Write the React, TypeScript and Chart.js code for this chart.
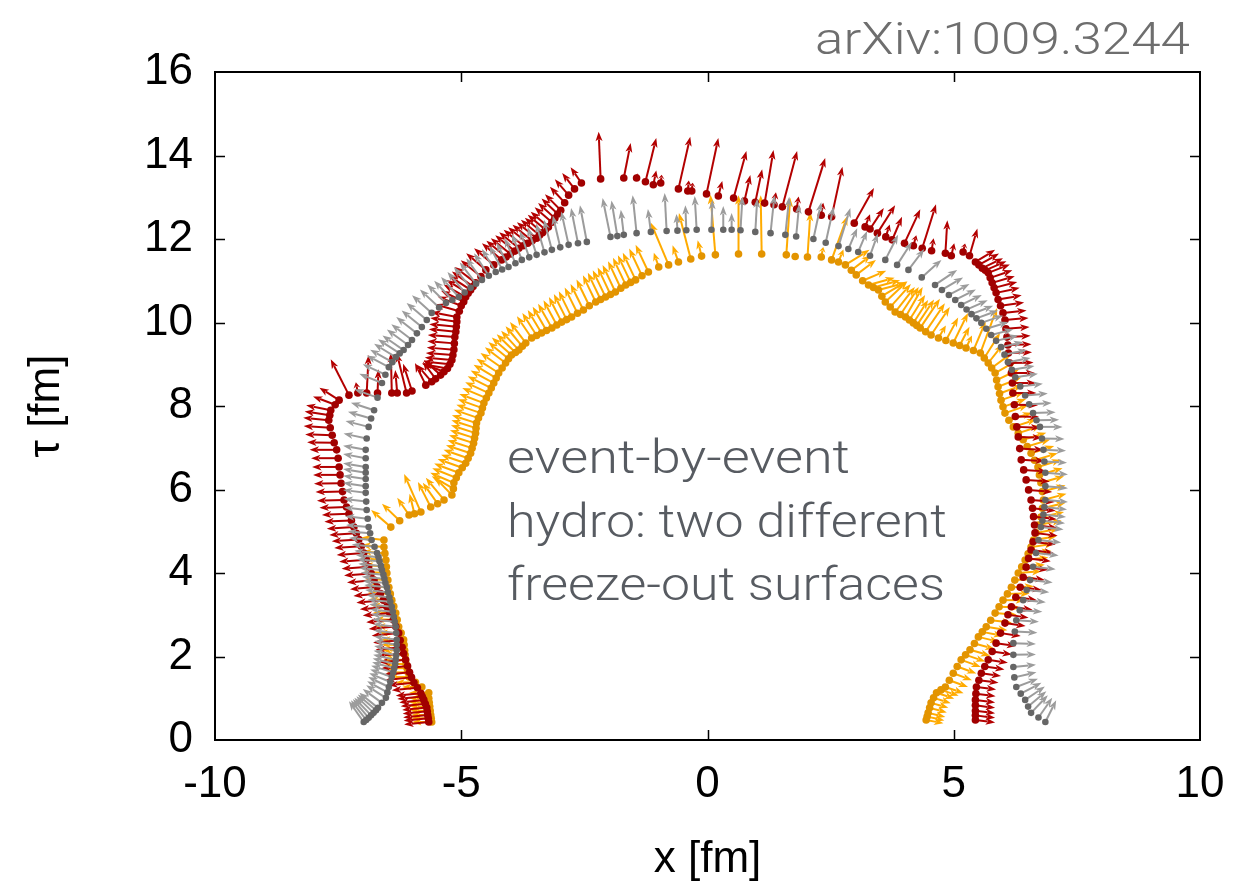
import React, { useEffect, useRef } from "react";
import { Chart, registerables } from "chart.js";
Chart.register(...registerables);

// ---------- axis ----------
const xRange = [-10, 10];
const tauRange = [0, 16];
const xStep = 5;
const tauStep = 2;

// ---------- surfaces: each row is [x, tau, arrow dx, arrow dtau] ----------
const grayPoints: number[][] = [
  [-6.98,0.43,-0.30,0.50],[-6.93,0.48,-0.31,0.47],[-6.88,0.53,-0.32,0.45],[-6.83,0.59,-0.34,0.42],
  [-6.78,0.65,-0.35,0.40],[-6.73,0.71,-0.37,0.38],[-6.69,0.77,-0.38,0.36],[-6.61,0.89,-0.39,0.33],
  [-6.53,1.01,-0.40,0.30],[-6.50,1.14,-0.41,0.27],[-6.47,1.27,-0.42,0.24],[-6.44,1.39,-0.43,0.21],
  [-6.41,1.51,-0.44,0.18],[-6.38,1.62,-0.45,0.16],[-6.36,1.72,-0.45,0.14],[-6.34,1.82,-0.46,0.13],
  [-6.33,1.92,-0.46,0.12],[-6.32,2.03,-0.46,0.11],[-6.31,2.15,-0.46,0.10],[-6.31,2.28,-0.46,0.09],
  [-6.31,2.40,-0.46,0.08],[-6.32,2.56,-0.46,0.07],[-6.33,2.71,-0.46,0.07],[-6.35,2.83,-0.46,0.06],
  [-6.37,2.95,-0.46,0.06],[-6.39,3.07,-0.46,0.06],[-6.41,3.19,-0.46,0.06],[-6.44,3.31,-0.46,0.05],
  [-6.46,3.42,-0.46,0.05],[-6.49,3.54,-0.46,0.05],[-6.51,3.66,-0.46,0.05],[-6.54,3.76,-0.46,0.05],
  [-6.56,3.86,-0.46,0.05],[-6.58,3.96,-0.46,0.05],[-6.61,4.07,-0.46,0.05],[-6.63,4.17,-0.46,0.05],
  [-6.66,4.28,-0.46,0.05],[-6.68,4.38,-0.46,0.05],[-6.71,4.48,-0.46,0.05],[-6.76,4.63,-0.46,0.05],
  [-6.82,4.79,-0.46,0.05],[-6.85,4.95,-0.46,0.05],[-6.88,5.10,-0.46,0.05],[-6.90,5.30,-0.46,0.06],
  [-6.92,5.51,-0.46,0.06],[-6.93,5.71,-0.46,0.07],[-6.94,5.92,-0.46,0.07],[-6.94,6.08,-0.46,0.08],
  [-6.94,6.25,-0.46,0.08],[-6.94,6.40,-0.46,0.09],[-6.94,6.54,-0.46,0.09],[-6.94,6.75,-0.46,0.10],
  [-6.94,6.95,-0.46,0.10],[-6.92,7.22,-0.47,0.12],[-6.88,7.50,-0.47,0.14],[-6.83,7.70,-0.47,0.16],
  [-6.77,7.90,-0.47,0.18],[-6.70,8.20,-0.47,0.20],[-6.61,8.55,-0.46,0.22],[-6.54,8.75,-0.46,0.25],
  [-6.47,8.93,-0.45,0.28],[-6.40,9.05,-0.45,0.30],[-6.33,9.17,-0.44,0.32],[-6.25,9.26,-0.44,0.34],
  [-6.17,9.34,-0.43,0.35],[-6.08,9.46,-0.43,0.37],[-6.00,9.58,-0.42,0.38],[-5.90,9.74,-0.42,0.39],
  [-5.80,9.89,-0.41,0.40],[-5.70,10.06,-0.41,0.41],[-5.60,10.23,-0.40,0.42],[-5.45,10.36,-0.39,0.43],
  [-5.31,10.47,-0.38,0.44],[-5.18,10.54,-0.37,0.46],[-5.05,10.61,-0.36,0.48],[-4.93,10.72,-0.35,0.49],
  [-4.81,10.83,-0.34,0.50],[-4.70,10.93,-0.33,0.51],[-4.58,11.02,-0.32,0.52],[-4.44,11.12,-0.30,0.54],
  [-4.30,11.21,-0.28,0.55],[-4.17,11.27,-0.26,0.57],[-4.04,11.33,-0.24,0.58],[-3.90,11.42,-0.22,0.60],
  [-3.77,11.50,-0.20,0.62],[-3.62,11.56,-0.19,0.64],[-3.47,11.62,-0.18,0.66],[-3.31,11.68,-0.17,0.69],
  [-3.16,11.74,-0.16,0.72],[-2.99,11.80,-0.15,0.76],[-2.82,11.86,-0.15,0.80],[-2.63,11.90,-0.14,0.84],
  [-2.45,11.93,-0.14,0.88],[-1.97,12.05,-0.16,0.93],[-1.83,12.07,-0.12,0.85],[-1.70,12.10,-0.06,0.60],
  [-1.44,12.14,-0.08,0.91],[-1.15,12.17,-0.06,0.55],[-0.83,12.19,-0.04,0.91],[-0.61,12.20,-0.02,0.40],
  [-0.43,12.21,-0.02,0.60],[-0.22,12.22,-0.04,0.81],[0.08,12.22,0.02,0.72],[0.32,12.22,0.00,0.57],
  [0.49,12.22,0.00,0.40],[0.67,12.21,0.04,0.81],[0.97,12.17,0.04,0.80],[1.28,12.14,0.08,0.91],
  [1.58,12.10,0.08,0.91],[1.80,12.06,0.06,0.77],[2.15,12.00,0.16,0.88],[2.40,11.91,0.16,0.86],
  [2.66,11.83,0.24,0.91],[2.86,11.76,0.18,0.50],[3.06,11.69,0.18,0.50],[3.30,11.60,0.16,0.53],
  [3.61,11.50,0.26,0.60],[3.85,11.38,0.30,0.55],[4.08,11.26,0.32,0.50],[4.35,11.08,0.40,0.42],
  [4.62,10.90,0.45,0.36],[4.76,10.78,0.43,0.30],[4.90,10.66,0.42,0.26],[5.03,10.54,0.42,0.25],
  [5.15,10.42,0.42,0.24],[5.26,10.31,0.43,0.22],[5.36,10.20,0.44,0.20],[5.46,10.10,0.44,0.19],
  [5.56,9.99,0.44,0.18],[5.66,9.85,0.45,0.16],[5.76,9.70,0.45,0.14],[5.86,9.56,0.45,0.13],
  [5.96,9.41,0.45,0.12],[6.03,9.23,0.46,0.11],[6.10,9.05,0.46,0.10],[6.18,8.87,0.46,0.09],
  [6.25,8.69,0.46,0.08],[6.35,8.47,0.46,0.06],[6.45,8.25,0.46,0.05],[6.53,8.04,0.46,0.03],
  [6.61,7.83,0.46,0.02],[6.68,7.66,0.46,0.01],[6.75,7.50,0.46,0.00],[6.79,7.22,0.46,-0.01],
  [6.82,6.95,0.46,-0.02],[6.84,6.67,0.46,-0.03],[6.86,6.40,0.46,-0.04],[6.86,6.08,0.46,-0.05],
  [6.86,5.75,0.46,-0.05],[6.84,5.58,0.46,-0.06],[6.82,5.40,0.46,-0.06],[6.80,5.25,0.46,-0.06],
  [6.77,5.10,0.46,-0.06],[6.72,4.79,0.46,-0.06],[6.67,4.48,0.46,-0.06],[6.61,4.15,0.46,-0.06],
  [6.55,3.83,0.46,-0.06],[6.48,3.59,0.46,-0.05],[6.41,3.35,0.46,-0.05],[6.34,3.11,0.46,-0.04],
  [6.27,2.87,0.46,-0.04],[6.24,2.60,0.46,-0.03],[6.21,2.32,0.46,-0.02],[6.21,2.04,0.46,0.01],
  [6.21,1.75,0.46,0.05],[6.23,1.50,0.45,0.12],[6.27,1.27,0.44,0.20],[6.36,1.11,0.42,0.26],
  [6.45,0.96,0.40,0.32],[6.51,0.80,0.37,0.37],[6.57,0.65,0.34,0.42],[6.72,0.54,0.28,0.47],
  [6.86,0.43,0.22,0.52],
];

const redPoints: number[][] = [
  [-5.66,0.43,-0.50,-0.06],[-5.67,0.52,-0.50,-0.06],[-5.68,0.60,-0.50,-0.06],[-5.69,0.69,-0.50,-0.06],
  [-5.70,0.78,-0.50,-0.06],[-5.73,0.87,-0.50,-0.06],[-5.76,0.96,-0.50,-0.06],[-5.79,1.04,-0.51,-0.06],
  [-5.82,1.12,-0.51,-0.06],[-5.89,1.25,-0.52,-0.06],[-5.96,1.37,-0.52,-0.06],[-6.01,1.50,-0.53,-0.06],
  [-6.05,1.62,-0.53,-0.06],[-6.09,1.77,-0.54,-0.06],[-6.13,1.92,-0.54,-0.06],[-6.17,2.07,-0.54,-0.06],
  [-6.20,2.22,-0.54,-0.06],[-6.24,2.39,-0.55,-0.06],[-6.27,2.56,-0.55,-0.06],[-6.33,2.72,-0.55,-0.06],
  [-6.38,2.88,-0.55,-0.06],[-6.45,3.04,-0.55,-0.06],[-6.51,3.19,-0.55,-0.06],[-6.58,3.35,-0.55,-0.06],
  [-6.64,3.51,-0.55,-0.06],[-6.71,3.67,-0.55,-0.06],[-6.77,3.83,-0.55,-0.06],[-6.83,3.99,-0.55,-0.05],
  [-6.88,4.15,-0.55,-0.05],[-6.93,4.32,-0.55,-0.05],[-6.98,4.48,-0.55,-0.05],[-7.03,4.64,-0.55,-0.04],
  [-7.08,4.80,-0.55,-0.04],[-7.13,4.95,-0.55,-0.04],[-7.18,5.10,-0.55,-0.04],[-7.23,5.26,-0.55,-0.03],
  [-7.28,5.42,-0.55,-0.03],[-7.33,5.58,-0.55,-0.02],[-7.38,5.75,-0.55,-0.02],[-7.41,5.95,-0.55,-0.01],
  [-7.44,6.15,-0.55,-0.01],[-7.46,6.35,-0.55,0.00],[-7.48,6.54,-0.55,0.00],[-7.50,6.75,-0.55,0.00],
  [-7.53,6.95,-0.55,0.00],[-7.58,7.12,-0.55,0.01],[-7.62,7.30,-0.55,0.02],[-7.66,7.48,-0.54,0.04],
  [-7.69,7.66,-0.52,0.06],[-7.67,7.78,-0.51,0.09],[-7.65,7.90,-0.50,0.12],[-7.56,8.03,-0.45,0.20],
  [-7.48,8.14,-0.40,0.30],[-7.28,8.26,-0.37,0.86],[-7.10,8.31,-0.04,0.26],[-6.92,8.31,0.04,0.91],
  [-6.70,8.31,0.02,0.57],[-6.41,8.31,-0.02,0.96],[-6.30,8.31,-0.04,0.55],[-6.11,8.31,-0.20,0.96],
  [-6.00,8.36,-0.18,0.65],[-5.72,8.50,-0.22,0.53],[-5.60,8.58,-0.30,0.41],[-5.52,8.65,-0.26,0.41],
  [-5.42,8.74,-0.34,0.36],[-5.35,8.82,-0.45,0.20],[-5.28,8.90,-0.50,0.10],[-5.23,9.00,-0.54,0.07],
  [-5.19,9.10,-0.55,0.06],[-5.17,9.22,-0.55,0.05],[-5.15,9.35,-0.55,0.05],[-5.14,9.50,-0.55,0.05],
  [-5.13,9.65,-0.55,0.05],[-5.11,9.78,-0.55,0.06],[-5.10,9.90,-0.55,0.06],[-5.09,10.02,-0.54,0.09],
  [-5.09,10.13,-0.52,0.12],[-5.04,10.27,-0.50,0.17],[-5.00,10.40,-0.48,0.22],[-4.95,10.50,-0.46,0.26],
  [-4.91,10.61,-0.45,0.30],[-4.86,10.70,-0.44,0.32],[-4.81,10.78,-0.44,0.34],[-4.76,10.86,-0.43,0.36],
  [-4.71,10.95,-0.42,0.38],[-4.60,11.10,-0.41,0.39],[-4.50,11.26,-0.40,0.40],[-4.34,11.38,-0.40,0.40],
  [-4.18,11.50,-0.40,0.40],[-4.09,11.57,-0.40,0.39],[-4.00,11.64,-0.40,0.38],[-3.91,11.71,-0.40,0.38],
  [-3.83,11.78,-0.40,0.38],[-3.74,11.84,-0.40,0.38],[-3.65,11.90,-0.40,0.38],[-3.56,11.96,-0.40,0.38],
  [-3.47,12.02,-0.40,0.38],[-3.41,12.09,-0.38,0.37],[-3.35,12.15,-0.36,0.36],[-3.29,12.22,-0.36,0.36],
  [-3.23,12.29,-0.36,0.36],[-3.16,12.40,-0.35,0.36],[-3.10,12.50,-0.34,0.36],[-3.04,12.60,-0.33,0.37],
  [-2.98,12.69,-0.32,0.38],[-2.90,12.87,-0.30,0.38],[-2.82,13.05,-0.28,0.38],[-2.70,13.20,-0.25,0.38],
  [-2.56,13.34,-0.22,0.38],[-2.17,13.44,-0.04,1.13],[-1.70,13.46,0.14,0.84],[-1.44,13.46,0.02,0.10],
  [-1.26,13.37,0.22,1.05],[-1.10,13.30,0.06,0.34],[-0.95,13.34,0.02,0.20],[-0.59,13.20,0.24,1.25],
  [-0.40,13.15,0.02,0.25],[-0.32,13.15,0.02,0.20],[-0.02,13.08,0.24,1.34],[0.22,13.03,0.08,0.36],
  [0.53,12.98,0.26,1.13],[0.75,12.91,0.12,0.62],[0.97,12.88,0.14,0.79],[1.16,12.86,0.18,1.27],
  [1.35,12.82,0.04,0.30],[1.52,12.77,0.30,1.34],[1.81,12.72,0.04,0.30],[2.05,12.65,0.34,1.29],
  [2.31,12.57,0.04,0.30],[2.52,12.53,0.22,1.20],[2.98,12.38,0.40,0.84],[3.20,12.29,0.10,0.30],
  [3.30,12.24,0.28,0.50],[3.45,12.14,0.36,0.67],[3.62,12.05,0.08,0.30],[3.75,11.98,0.20,0.55],
  [4.00,11.90,0.32,0.81],[4.18,11.84,0.06,0.25],[4.36,11.78,0.28,1.05],[4.55,11.72,0.04,0.30],
  [4.83,11.66,0.04,0.79],[4.95,11.60,0.06,0.30],[5.19,11.69,0.04,0.20],[5.32,11.60,0.16,0.65],
  [5.44,11.45,0.40,0.29],[5.51,11.38,0.41,0.27],[5.58,11.30,0.42,0.24],[5.64,11.25,0.43,0.22],
  [5.70,11.19,0.44,0.20],[5.74,11.07,0.45,0.18],[5.78,10.95,0.46,0.16],[5.82,10.83,0.47,0.14],
  [5.86,10.71,0.48,0.12],[5.90,10.55,0.48,0.10],[5.95,10.40,0.48,0.08],[6.00,10.23,0.48,0.06],
  [6.04,10.06,0.48,0.05],[6.06,9.85,0.48,0.04],[6.08,9.65,0.48,0.03],[6.10,9.46,0.48,0.02],
  [6.11,9.27,0.48,0.02],[6.14,9.03,0.48,0.01],[6.17,8.79,0.48,0.00],[6.19,8.55,0.48,0.00],
  [6.20,8.31,0.48,0.00],[6.23,8.03,0.48,-0.01],[6.25,7.75,0.48,-0.01],[6.28,7.50,0.48,-0.02],
  [6.31,7.26,0.48,-0.02],[6.34,6.98,0.48,-0.03],[6.37,6.71,0.48,-0.03],[6.42,6.47,0.48,-0.04],
  [6.47,6.23,0.48,-0.04],[6.52,5.99,0.48,-0.05],[6.57,5.75,0.48,-0.05],[6.60,5.55,0.47,-0.06],
  [6.62,5.35,0.47,-0.06],[6.64,5.15,0.46,-0.07],[6.65,4.96,0.46,-0.07],[6.61,4.75,0.46,-0.07],
  [6.57,4.55,0.46,-0.07],[6.52,4.35,0.45,-0.07],[6.47,4.14,0.45,-0.07],[6.41,3.90,0.44,-0.07],
  [6.35,3.66,0.44,-0.07],[6.26,3.42,0.43,-0.07],[6.17,3.19,0.43,-0.07],[6.10,3.00,0.42,-0.07],
  [6.04,2.80,0.42,-0.07],[5.95,2.56,0.41,-0.07],[5.86,2.32,0.41,-0.07],[5.78,2.12,0.40,-0.07],
  [5.70,1.92,0.40,-0.07],[5.63,1.76,0.40,-0.07],[5.56,1.60,0.40,-0.07],[5.51,1.43,0.40,-0.06],
  [5.46,1.27,0.40,-0.06],[5.45,1.11,0.40,-0.06],[5.44,0.96,0.40,-0.06],[5.44,0.83,0.40,-0.06],
  [5.44,0.70,0.40,-0.06],[5.44,0.59,0.40,-0.06],[5.44,0.48,0.40,-0.06],
];

const orangePoints: number[][] = [
  [-5.60,0.43,-0.40,0.00],[-5.61,0.52,-0.40,0.00],[-5.62,0.60,-0.40,0.00],[-5.63,0.70,-0.40,0.00],
  [-5.64,0.80,-0.40,0.00],[-5.65,0.90,-0.40,0.00],[-5.66,1.00,-0.40,0.00],[-5.66,1.13,-0.40,0.00],
  [-5.80,1.27,-0.40,0.00],[-5.93,1.38,-0.41,0.00],[-6.06,1.51,-0.42,0.00],[-6.08,1.62,-0.43,0.00],
  [-6.10,1.72,-0.44,0.00],[-6.12,1.82,-0.44,0.00],[-6.13,1.92,-0.45,0.00],[-6.14,2.04,-0.45,0.00],
  [-6.15,2.15,-0.46,0.00],[-6.16,2.28,-0.46,0.00],[-6.17,2.40,-0.46,0.00],[-6.22,2.56,-0.46,0.01],
  [-6.27,2.71,-0.46,0.01],[-6.30,2.88,-0.46,0.01],[-6.33,3.04,-0.46,0.01],[-6.37,3.20,-0.46,0.02],
  [-6.41,3.35,-0.46,0.02],[-6.44,3.50,-0.46,0.02],[-6.47,3.66,-0.46,0.02],[-6.49,3.83,-0.46,0.03],
  [-6.51,4.00,-0.46,0.03],[-6.52,4.15,-0.46,0.04],[-6.53,4.31,-0.46,0.04],[-6.55,4.47,-0.46,0.05],
  [-6.57,4.62,-0.46,0.05],[-6.57,4.79,-0.46,0.06],[-6.43,5.10,-0.40,0.41],[-6.25,5.25,-0.36,0.41],
  [-6.06,5.39,-0.24,0.41],[-5.95,5.42,-0.10,0.48],[-5.82,5.46,-0.34,0.91],[-5.62,5.58,-0.26,0.60],
  [-5.48,5.66,-0.30,0.50],[-5.35,5.75,-0.37,0.53],[-5.19,5.87,-0.34,0.41],[-5.16,6.02,-0.44,0.30],
  [-5.15,6.16,-0.48,0.24],[-5.10,6.28,-0.49,0.23],[-5.05,6.40,-0.50,0.22],[-4.98,6.52,-0.50,0.21],
  [-4.91,6.63,-0.50,0.20],[-4.86,6.75,-0.50,0.20],[-4.81,6.87,-0.50,0.19],[-4.78,6.99,-0.50,0.19],
  [-4.75,7.11,-0.50,0.19],[-4.73,7.23,-0.50,0.19],[-4.71,7.35,-0.50,0.19],[-4.70,7.47,-0.50,0.19],
  [-4.69,7.59,-0.50,0.19],[-4.65,7.71,-0.50,0.20],[-4.60,7.83,-0.50,0.20],[-4.57,7.95,-0.50,0.21],
  [-4.54,8.07,-0.50,0.22],[-4.49,8.19,-0.49,0.24],[-4.44,8.31,-0.48,0.26],[-4.39,8.43,-0.48,0.28],
  [-4.34,8.55,-0.47,0.30],[-4.29,8.67,-0.46,0.32],[-4.24,8.79,-0.45,0.34],[-4.17,8.91,-0.44,0.36],
  [-4.10,9.03,-0.42,0.38],[-4.04,9.13,-0.41,0.40],[-3.98,9.22,-0.40,0.42],[-3.90,9.28,-0.38,0.44],
  [-3.83,9.34,-0.36,0.46],[-3.76,9.43,-0.34,0.48],[-3.69,9.51,-0.32,0.50],[-3.57,9.63,-0.30,0.52],
  [-3.47,9.69,-0.29,0.54],[-3.37,9.75,-0.28,0.55],[-3.27,9.81,-0.28,0.57],[-3.16,9.87,-0.28,0.58],
  [-3.06,9.94,-0.27,0.59],[-2.96,10.01,-0.26,0.60],[-2.86,10.07,-0.26,0.61],[-2.76,10.13,-0.26,0.62],
  [-2.64,10.22,-0.26,0.62],[-2.52,10.30,-0.26,0.62],[-2.40,10.40,-0.26,0.63],[-2.27,10.49,-0.26,0.64],
  [-2.17,10.55,-0.26,0.64],[-2.07,10.61,-0.26,0.64],[-1.97,10.67,-0.26,0.65],[-1.87,10.73,-0.26,0.65],
  [-1.76,10.82,-0.26,0.65],[-1.66,10.90,-0.26,0.65],[-1.56,10.96,-0.26,0.65],[-1.46,11.02,-0.26,0.65],
  [-1.33,11.12,-0.26,0.65],[-1.20,11.21,-0.26,0.65],[-0.99,11.33,-0.10,0.34],[-0.79,11.38,-0.36,1.01],
  [-0.59,11.45,-0.12,0.40],[-0.34,11.52,-0.24,1.10],[-0.12,11.59,-0.08,0.38],[0.16,11.62,-0.10,1.44],
  [0.63,11.64,0.00,1.41],[1.10,11.64,-0.02,1.41],[1.60,11.62,0.08,1.37],[1.78,11.58,0.00,0.00],
  [2.03,11.57,0.06,1.08],[2.31,11.57,0.04,0.24],[2.52,11.50,0.32,1.05],[2.66,11.45,0.10,0.30],
  [2.80,11.38,0.49,0.36],[2.92,11.25,0.40,0.36],[3.02,11.14,0.40,0.36],[3.15,11.00,0.48,0.24],
  [3.27,10.90,0.53,0.17],[3.37,10.84,0.54,0.17],[3.47,10.78,0.55,0.17],[3.54,10.63,0.50,0.35],
  [3.61,10.49,0.45,0.50],[3.71,10.37,0.42,0.55],[3.81,10.25,0.40,0.60],[3.92,10.19,0.37,0.66],
  [4.02,10.13,0.35,0.72],[4.10,10.06,0.32,0.60],[4.18,9.99,0.30,0.55],[4.25,9.93,0.35,0.62],
  [4.32,9.87,0.40,0.70],[4.43,9.78,0.39,0.68],[4.54,9.70,0.38,0.67],[4.69,9.63,0.15,0.30],
  [4.84,9.57,0.25,0.55],[4.99,9.51,0.30,0.72],[5.12,9.45,0.20,0.45],[5.25,9.39,0.12,0.30],
  [5.40,9.33,0.25,0.70],[5.54,9.27,0.34,1.08],[5.62,9.15,0.32,0.60],[5.70,9.03,0.30,0.45],
  [5.77,8.91,0.40,0.35],[5.84,8.79,0.45,0.30],[5.87,8.62,0.46,0.26],[5.90,8.46,0.47,0.22],
  [5.93,8.30,0.47,0.20],[5.96,8.14,0.47,0.19],[6.00,7.98,0.47,0.19],[6.04,7.83,0.47,0.19],
  [6.12,7.66,0.47,0.18],[6.21,7.50,0.47,0.18],[6.31,7.35,0.47,0.18],[6.41,7.19,0.47,0.17],
  [6.49,7.03,0.47,0.17],[6.57,6.87,0.47,0.17],[6.64,6.70,0.47,0.17],[6.71,6.54,0.47,0.17],
  [6.74,6.35,0.47,0.16],[6.77,6.16,0.47,0.16],[6.80,5.95,0.47,0.15],[6.82,5.75,0.47,0.15],
  [6.80,5.55,0.47,0.13],[6.77,5.34,0.47,0.12],[6.72,5.15,0.47,0.11],[6.67,4.96,0.47,0.10],
  [6.62,4.79,0.47,0.09],[6.57,4.62,0.47,0.08],[6.51,4.46,0.47,0.07],[6.45,4.31,0.47,0.06],
  [6.38,4.15,0.47,0.05],[6.31,4.00,0.47,0.04],[6.24,3.83,0.46,0.03],[6.17,3.66,0.46,0.02],
  [6.09,3.50,0.45,0.01],[6.00,3.35,0.45,0.00],[5.92,3.19,0.44,-0.02],[5.84,3.04,0.44,-0.04],
  [5.75,2.87,0.43,-0.06],[5.66,2.71,0.43,-0.08],[5.58,2.59,0.42,-0.10],[5.50,2.47,0.42,-0.12],
  [5.42,2.31,0.41,-0.13],[5.33,2.16,0.41,-0.14],[5.24,2.04,0.40,-0.16],[5.15,1.92,0.40,-0.17],
  [5.07,1.76,0.39,-0.17],[4.99,1.60,0.38,-0.17],[4.91,1.43,0.38,-0.16],[4.83,1.27,0.37,-0.15],
  [4.74,1.20,0.36,-0.14],[4.65,1.13,0.36,-0.14],[4.59,1.01,0.35,-0.13],[4.54,0.89,0.35,-0.12],
  [4.51,0.77,0.35,-0.11],[4.48,0.65,0.35,-0.10],[4.46,0.56,0.35,-0.09],[4.44,0.48,0.35,-0.08],
];

// ---------- texts ----------
const xTitle = "x [fm]";
const tauTitle = "τ [fm]";
const noteLines = ["event-by-event", "hydro: two different", "freeze-out surfaces"];
const sourceLabel = "arXiv:1009.3244";

const TICK_FONT = "'Liberation Sans', Arial, Helvetica, sans-serif";
const NOTE_FONT = "Roboto, 'Liberation Sans', sans-serif";

function buildPoints(rows: number[][]) {
  return rows.map((r) => ({ x: r[0], y: r[1], u: r[2], v: r[3] }));
}

const arrowPlugin = {
  id: "flowArrows",
  beforeDatasetDraw(chart: any, args: any) {
    const ds: any = chart.data.datasets[args.index];
    if (!ds || !ds.arrowColor) return;
    const xs = chart.scales.x;
    const ys = chart.scales.y;
    const ctx: CanvasRenderingContext2D = chart.ctx;
    ctx.save();
    ctx.strokeStyle = ds.arrowColor;
    ctx.fillStyle = ds.arrowColor;
    ctx.lineWidth = 2;
    ctx.lineCap = "butt";
    for (const p of ds.data) {
      const x0 = xs.getPixelForValue(p.x);
      const y0 = ys.getPixelForValue(p.y);
      const x1 = xs.getPixelForValue(p.x + p.u);
      const y1 = ys.getPixelForValue(p.y + p.v);
      const dx = x1 - x0;
      const dy = y1 - y0;
      const len = Math.hypot(dx, dy);
      if (len < 2) continue;
      const ux = dx / len;
      const uy = dy / len;
      const head = Math.min(9.5, len * 0.55);
      const hw = 3.5;
      const bx = x1 - ux * head;
      const by = y1 - uy * head;
      ctx.beginPath();
      ctx.moveTo(x0, y0);
      ctx.lineTo(bx + ux * 2, by + uy * 2);
      ctx.stroke();
      ctx.beginPath();
      ctx.moveTo(x1, y1);
      ctx.lineTo(bx - uy * hw, by + ux * hw);
      ctx.lineTo(bx + ux * 2.5, by + uy * 2.5);
      ctx.lineTo(bx + uy * hw, by - ux * hw);
      ctx.closePath();
      ctx.fill();
    }
    ctx.restore();
  },
};

const framePlugin = {
  id: "frameTicks",
  afterDraw(chart: any) {
    const { ctx, chartArea } = chart;
    const { left, right, top, bottom } = chartArea;
    const xs = chart.scales.x;
    const ys = chart.scales.y;
    ctx.save();
    ctx.strokeStyle = "#000";
    ctx.lineWidth = 1.5;
    const tl = 10;
    ctx.beginPath();
    for (let v = xRange[0] + xStep; v < xRange[1]; v += xStep) {
      const px = Math.round(xs.getPixelForValue(v)) + 0.5;
      ctx.moveTo(px, bottom);
      ctx.lineTo(px, bottom - tl);
      ctx.moveTo(px, top);
      ctx.lineTo(px, top + tl);
    }
    for (let v = tauRange[0] + tauStep; v < tauRange[1]; v += tauStep) {
      const py = Math.round(ys.getPixelForValue(v)) + 0.5;
      ctx.moveTo(left, py);
      ctx.lineTo(left + tl, py);
      ctx.moveTo(right, py);
      ctx.lineTo(right - tl, py);
    }
    ctx.stroke();
    ctx.lineWidth = 2;
    ctx.strokeRect(left, top, right - left, bottom - top);

    // annotation
    ctx.fillStyle = "#575b61";
    ctx.textBaseline = "alphabetic";
    ctx.textAlign = "left";
    ctx.font = `300 46px ${NOTE_FONT}`;
    const widths = [343, 440, 438];
    const baselines = [473, 537, 600];
    noteLines.forEach((line, i) => {
      const w = ctx.measureText(line).width;
      ctx.save();
      ctx.translate(507, baselines[i]);
      ctx.scale(widths[i] / w, 1);
      ctx.fillText(line, 0, 0);
      ctx.restore();
    });
    // source label
    ctx.fillStyle = "#6e6e6e";
    ctx.font = `300 44px ${NOTE_FONT}`;
    const sw = ctx.measureText(sourceLabel).width;
    ctx.save();
    ctx.translate(815, 54);
    ctx.scale(375 / sw, 1);
    ctx.fillText(sourceLabel, 0, 0);
    ctx.restore();
    ctx.restore();
  },
};

export default function App() {
  const ref = useRef<HTMLCanvasElement | null>(null);
  useEffect(() => {
    document.body.style.margin = "0";
    const canvas = ref.current;
    if (!canvas) return;
    const mk = (label: string, rows: number[][], dot: string, arrow: string, r: number) => ({
      label,
      data: buildPoints(rows),
      pointRadius: r,
      pointBackgroundColor: dot,
      pointBorderWidth: 0,
      pointBorderColor: dot,
      showLine: false,
      arrowColor: arrow,
    });
    const chart = new Chart(canvas, {
      type: "scatter",
      data: {
        datasets: [
          mk("gray", grayPoints, "#666666", "#9c9c9c", 3.3),
          mk("red", redPoints, "#a10000", "#b30000", 3.8),
          mk("orange", orangePoints, "#e39400", "#ffab00", 3.8),
        ] as any,
      },
      options: {
        animation: false,
        responsive: false,
        devicePixelRatio: 1,
        layout: { padding: { left: 0, top: 72, right: 60, bottom: 0 } },
        plugins: { legend: { display: false }, tooltip: { enabled: false } },
        scales: {
          x: {
            type: "linear",
            min: xRange[0],
            max: xRange[1],
            ticks: { stepSize: xStep, color: "#000", font: { family: TICK_FONT, size: 44 }, padding: 18 },
            grid: { display: false, drawTicks: false },
            border: { display: false },
            title: { display: true, text: xTitle, color: "#000", font: { family: TICK_FONT, size: 44 }, padding: { top: 0, bottom: 2 } },
            afterFit: (s: any) => { s.height = 148; },
          },
          y: {
            type: "linear",
            min: tauRange[0],
            max: tauRange[1],
            ticks: { stepSize: tauStep, color: "#000", font: { family: TICK_FONT, size: 44 }, padding: 22 },
            grid: { display: false, drawTicks: false },
            border: { display: false },
            title: { display: true, text: tauTitle, color: "#000", font: { family: TICK_FONT, size: 44 }, padding: { top: 20, bottom: 0 } },
            afterFit: (s: any) => { s.width = 215; },
          },
        },
      } as any,
      plugins: [arrowPlugin, framePlugin],
    });
    return () => chart.destroy();
  }, []);
  return <canvas ref={ref} width={1260} height={888} style={{ display: "block" }} />;
}
